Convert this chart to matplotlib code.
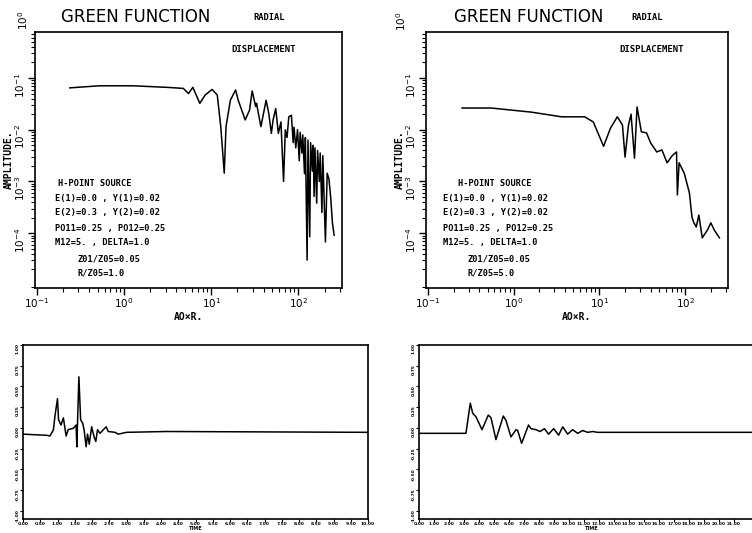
import numpy as np
import matplotlib
matplotlib.use("Agg")
import matplotlib.pyplot as plt
from matplotlib.ticker import LogLocator, FixedLocator, NullFormatter

# ---------------- data ----------------
# Top-left: log10(AO*R) and log10(amplitude), R/Z05 = 1.0
left_logx = [-0.62, -0.28, 0.10, 0.49, 0.68, 0.74, 0.79, 0.87, 0.93, 1.01, 1.07,
             1.11, 1.15, 1.17, 1.22, 1.28, 1.31, 1.39, 1.44, 1.47, 1.51, 1.52,
             1.57, 1.63, 1.66, 1.69, 1.71, 1.74, 1.77, 1.80, 1.83, 1.85, 1.87,
             1.89, 1.92, 1.94, 1.95, 1.97, 1.99, 2.01, 2.02, 2.04, 2.05, 2.07,
             2.08, 2.10, 2.11, 2.13, 2.14, 2.16, 2.17, 2.18, 2.19, 2.21, 2.22,
             2.24, 2.25, 2.27, 2.28, 2.31, 2.33, 2.35, 2.37, 2.39, 2.41]
left_logy = [-1.19, -1.15, -1.15, -1.18, -1.20, -1.30, -1.18, -1.49, -1.33, -1.22, -1.33,
             -1.94, -2.84, -1.94, -1.43, -1.23, -1.43, -1.81, -1.62, -1.25, -1.55, -1.49,
             -1.94, -1.43, -1.68, -2.07, -1.81, -1.59, -2.07, -1.85, -3.00, -2.00, -2.15,
             -1.75, -1.72, -2.25, -1.95, -2.35, -2.00, -2.60, -2.05, -2.45, -2.10, -2.85,
             -2.15, -4.52, -2.20, -4.07, -2.25, -2.80, -2.30, -3.29, -2.35, -3.42, -2.40,
             -3.00, -2.45, -3.60, -2.50, -4.17, -2.84, -2.95, -3.30, -3.80, -4.04]

# Top-right: R/Z05 = 5.0
right_logx = [-0.60, -0.26, 0.21, 0.56, 0.83, 0.93, 1.05, 1.13, 1.21, 1.27, 1.30,
              1.34, 1.37, 1.41, 1.44, 1.49, 1.55, 1.60, 1.67, 1.73, 1.79, 1.85,
              1.90, 1.91, 1.93, 1.99, 2.05, 2.08, 2.10, 2.13, 2.16, 2.20, 2.26,
              2.30, 2.34, 2.40]
right_logy = [-1.58, -1.58, -1.66, -1.75, -1.75, -1.85, -2.32, -1.97, -1.75, -1.91, -2.53,
              -1.91, -1.70, -2.55, -1.56, -2.04, -2.06, -2.26, -2.43, -2.39, -2.64, -2.50,
              -2.43, -3.26, -2.64, -2.84, -3.22, -3.69, -3.79, -3.88, -3.65, -4.09, -3.94,
              -3.80, -3.94, -4.09]

# Bottom-left time trace
bl_time = [0.0, 0.69, 0.78, 0.88, 0.93, 1.00, 1.03, 1.10, 1.17, 1.25, 1.31, 1.46,
           1.54, 1.56, 1.62, 1.67, 1.73, 1.77, 1.83, 1.87, 1.92, 1.99, 2.06, 2.11,
           2.16, 2.23, 2.41, 2.47, 2.67, 2.76, 3.00, 4.16, 10.0]
bl_val = [-0.076, -0.090, -0.098, -0.026, 0.155, 0.352, 0.099, 0.034, 0.121, -0.098, -0.022,
          -0.005, 0.034, -0.229, 0.616, 0.099, 0.055, -0.022, -0.229, -0.076, -0.197, 0.013,
          -0.109, -0.164, -0.022, -0.066, 0.013, -0.044, -0.054, -0.076, -0.054, -0.044, -0.054]

# Bottom-right time trace
br_time = [0.0, 3.13, 3.42, 3.58, 3.80, 4.20, 4.62, 4.80, 5.13, 5.62, 5.80, 6.13,
           6.47, 6.58, 6.84, 7.30, 7.47, 7.80, 8.07, 8.36, 8.64, 8.98, 9.31, 9.58,
           9.91, 10.24, 10.58, 10.91, 11.24, 11.58, 11.90, 24.0]
br_val = [-0.066, -0.066, 0.297, 0.176, 0.133, -0.022, 0.155, 0.121, -0.142, 0.143, 0.089,
          -0.109, -0.022, -0.032, -0.187, 0.034, -0.010, -0.022, -0.044, -0.010, -0.076, -0.010,
          -0.088, 0.013, -0.076, -0.022, -0.066, -0.032, -0.054, -0.044, -0.054, -0.054]

left_params = ["E(1)=0.0 , Y(1)=0.02", "E(2)=0.3 , Y(2)=0.02",
               "PO11=0.25 , PO12=0.25", "M12=5. , DELTA=1.0"]
ratio_left = ["Z01/Z05=0.05", "R/Z05=1.0"]
ratio_right = ["Z01/Z05=0.05", "R/Z05=5.0"]

time_ticks_left = [i * 0.5 for i in range(21)]
time_ticks_right = [float(i) for i in range(22)]
amp_ticks = [-1.0, -0.75, -0.5, -0.25, 0.0, 0.25, 0.5, 0.75, 1.0]
log_major = [1e-4, 1e-3, 1e-2, 1e-1, 1e0]

# ---------------- figure ----------------
W, H = 752, 533
fig = plt.figure(figsize=(W / 100, H / 100), dpi=100)
fig.patch.set_facecolor("white")

def px_axes(x0, y0, x1, y1):
    return fig.add_axes([x0 / W, 1 - y1 / H, (x1 - x0) / W, (y1 - y0) / H])

LW = 1.1
bold = dict(fontweight="bold", family="DejaVu Sans")
mono = dict(fontweight="bold", family="DejaVu Sans Mono")

def spectrum(ax, lx, ly, x0, y0):
    ax.plot(10 ** np.array(lx), 10 ** np.array(ly), color="black", lw=LW)
    ax.set_xscale("log")
    ax.set_yscale("log")
    ax.set_xlim(10 ** -1.02, 10 ** 2.5)
    ax.set_ylim(10 ** -5.06, 10 ** -0.11)
    for s in ax.spines.values():
        s.set_linewidth(1.2)
    ax.xaxis.set_major_locator(LogLocator(base=10, numticks=10))
    ax.yaxis.set_major_locator(FixedLocator(log_major))
    ax.xaxis.set_minor_locator(LogLocator(base=10, subs=np.arange(2, 10), numticks=20))
    ax.yaxis.set_minor_locator(LogLocator(base=10, subs=np.arange(2, 10), numticks=20))
    ax.yaxis.set_minor_formatter(NullFormatter())
    ax.xaxis.set_minor_formatter(NullFormatter())
    ax.tick_params(which="major", direction="out", length=5, width=1, labelsize=7.5, pad=1)
    ax.tick_params(which="minor", direction="out", length=3, width=0.8)
    ax.tick_params(axis="y", labelrotation=90)
    ax.set_xlabel("AO×R.", fontsize=7, **mono)
    ax.xaxis.set_label_coords(0.5, -0.095)
    ax.set_ylabel("AMPLITUDE.", fontsize=7, **mono)
    ax.yaxis.set_label_coords(-0.07, 0.5)
    ax.text(0.64, 0.93, "DISPLACEMENT", transform=ax.transAxes, fontsize=6.5,
            va="center", **mono)
    # the 10^0 label printed above the frame
    fig.text(x0 / W, 1 - y0 / H, r"$10^{0}$", fontsize=7.5, rotation=90,
             ha="center", va="center")
    return ax

ax1 = px_axes(35, 32, 342, 288)
spectrum(ax1, left_logx, left_logy, 23, 20)
ax2 = px_axes(426, 32, 728, 288)
spectrum(ax2, right_logx, right_logy, 401, 21)

# titles
for xg, xr in [(61, 253), (454, 631)]:
    fig.text(xg / W, 1 - 17 / H, "GREEN FUNCTION", fontsize=12, va="center", ha="left",
             family="DejaVu Sans")
    fig.text(xr / W, 1 - 17 / H, "RADIAL", fontsize=6.3, va="center", ha="left", **mono)

# parameter blocks
def params(x_head, x_body, x_ratio, ratios):
    ys = [183, 198, 213, 228, 243, 259, 273]
    fig.text(x_head / W, 1 - ys[0] / H, "H-POINT SOURCE", fontsize=6.2, va="center", **mono)
    for y, s in zip(ys[1:5], left_params):
        fig.text(x_body / W, 1 - y / H, s, fontsize=6.2, va="center", **mono)
    for y, s in zip(ys[5:], ratios):
        fig.text(x_ratio / W, 1 - y / H, s, fontsize=6.2, va="center", **mono)

params(58, 55, 77, ratio_left)
params(458, 443, 468, ratio_right)

def trace(ax, t, v, ticks, xmax):
    ax.plot(t, v, color="black", lw=LW)
    ax.set_xlim(0, xmax)
    ax.set_ylim(-1.1, 1.0)
    for s in ax.spines.values():
        s.set_linewidth(1.2)
    ax.xaxis.set_major_locator(FixedLocator(ticks))
    ax.set_xticklabels(["%.2f" % x for x in ticks])
    ax.yaxis.set_major_locator(FixedLocator(amp_ticks))
    ax.set_yticklabels(["%.2f" % y for y in amp_ticks])
    ax.tick_params(direction="out", length=2, width=0.8, labelsize=3.2, pad=0.5)
    ax.tick_params(axis="y", labelrotation=90)
    for lab in ax.get_xticklabels() + ax.get_yticklabels():
        lab.set_fontweight("bold")
    ax.set_xlabel("TIME", fontsize=3.5, labelpad=0, **bold)

ax3 = px_axes(23, 345, 368, 519)
trace(ax3, bl_time, bl_val, time_ticks_left, 10.0)
ax4 = px_axes(419, 345, 764, 519)
trace(ax4, br_time, br_val, time_ticks_right, 23.0)

fig.savefig("out.png", dpi=100, facecolor="white")
